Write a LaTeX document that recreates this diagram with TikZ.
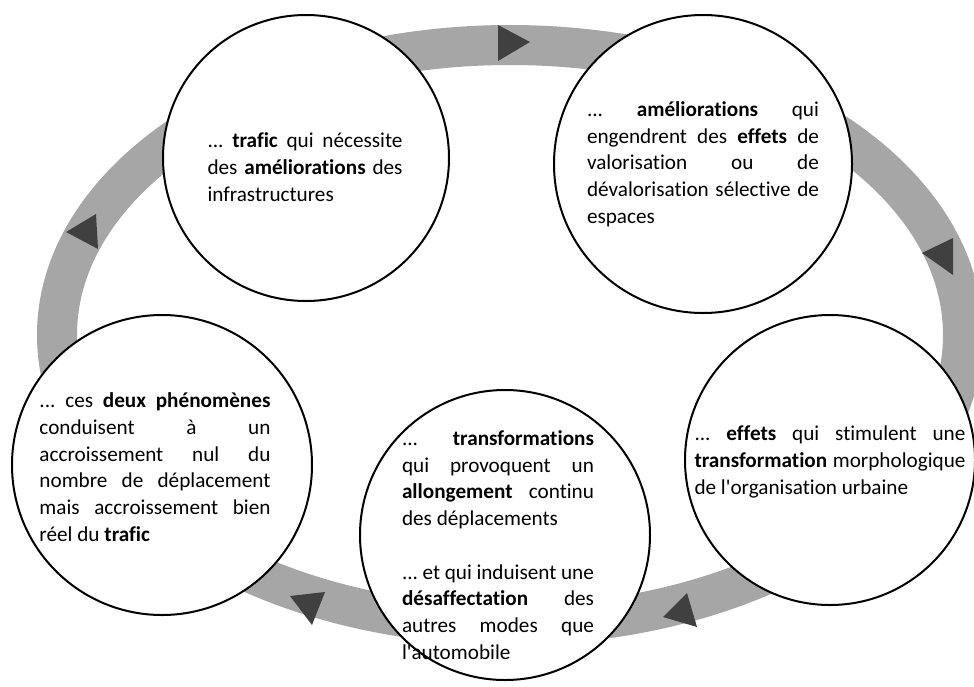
\documentclass[tikz,border=0pt]{standalone}
\usepackage{fontspec}
\setmainfont{Carlito}[Ligatures={NoCommon}]
\usepackage{tikz}
\usetikzlibrary{positioning}
\definecolor{ringgray}{HTML}{A6A6A6}
\definecolor{tipgray}{HTML}{404040}
\newcommand{\apos}{\textquotesingle}
\hyphenpenalty=10000
\exhyphenpenalty=10000
\tolerance=9999
\frenchspacing
\tikzset{bubble/.style={draw, circle, line width=1pt, fill=white, inner sep=0pt}}
\tikzset{blurb/.style={align=justify, inner sep=0pt, text=black, font=\fontsize{10.6}{13.35}\selectfont}}

\begin{document}
\begin{tikzpicture}[x=0.5pt, y=-0.5pt]
	% Default action for the ring and its tips
	\tikzstyle{ring}=[draw=ringgray, line width=20pt];
	\tikzstyle{tip}=[fill=tipgray];
	\useasboundingbox (0,0) rectangle (974,686);

	% Ring
	\draw[ring] (510,335) ellipse [x radius=226.5pt, y radius=145pt];

	% Tips
	\fill[tip] (498,25) -- (498,61) -- (530,42) -- cycle;
	\fill[tip] (922,253) -- (953,238) -- (953,275) -- cycle;
	\fill[tip] (663,617) -- (687,593) -- (697,627) -- cycle;
	\fill[tip] (290,596) -- (325,592) -- (312,625) -- cycle;
	\fill[tip] (66,232) -- (96,214) -- (98,249) -- cycle;

	% Bubbles
	\node[bubble, minimum size=143pt] (trafic) at (306,158) {};
	\node[bubble, minimum size=149pt] (amelio) at (703,164) {};
	\node[bubble, minimum size=145pt] (effets) at (830,460) {};
	\node[bubble, minimum size=145pt] (transfo) at (505,535) {};
	\node[bubble, minimum size=150pt] (phenom) at (162,465) {};

	% Texts
	\node[blurb, text width=97.5pt] (traficText) at (305,167) {... \textbf{trafic} qui nécessite\linebreak des \textbf{améliorations} des\linebreak infrastructures};
	\node[blurb, text width=116pt] (amelioText) at (703,164) {... \textbf{améliorations} qui\linebreak engendrent des \textbf{effets} de\linebreak valorisation ou de\linebreak dévalorisation sélective de\linebreak espaces};
	\node[blurb, text width=135.5pt] (effetsText) at (830,462) {... \textbf{effets} qui stimulent une\linebreak \textbf{transformation} morphologique\linebreak de l\apos organisation urbaine};
	\node[blurb, text width=96pt] (transfoText) at (498,545) {... \textbf{transformations}\linebreak qui provoquent un\linebreak \textbf{allongement} continu\linebreak des déplacements\par\vspace{\baselineskip}... et qui induisent une\linebreak \textbf{désaffectation} des\linebreak autres modes que\linebreak l\apos automobile};
	\node[blurb, text width=115.5pt] (phenomText) at (155,467) {... ces \textbf{deux phénomènes}\linebreak conduisent à un\linebreak accroissement nul du\linebreak nombre de déplacement\linebreak mais accroissement bien\linebreak réel du \textbf{trafic}};
\end{tikzpicture}
\end{document}
